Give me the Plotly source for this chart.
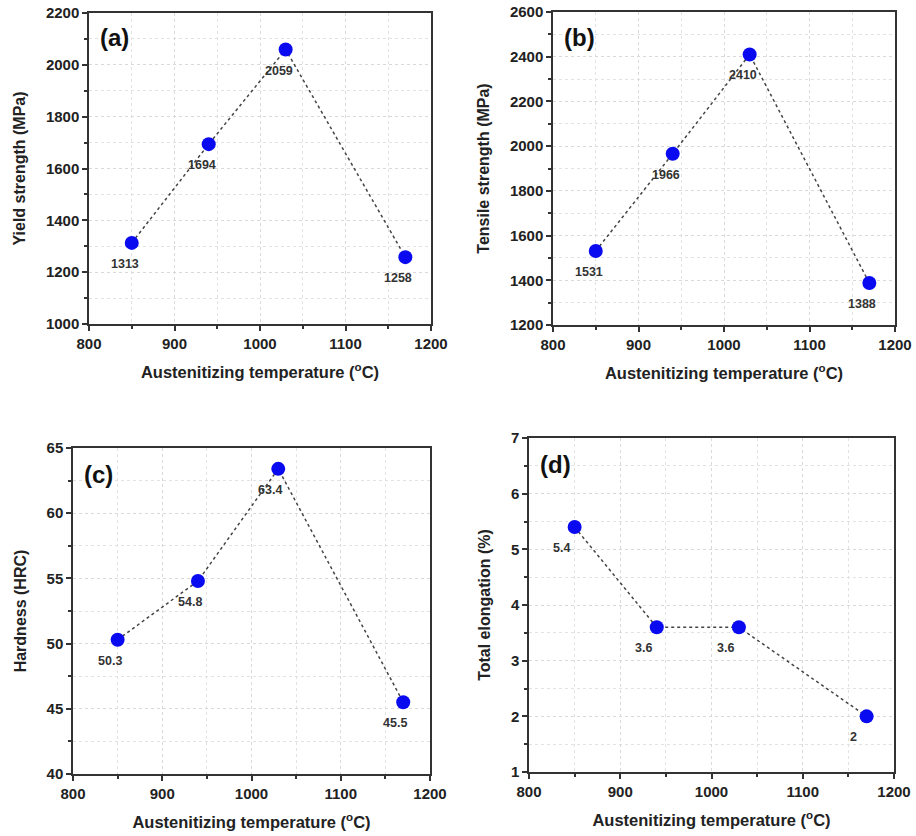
import plotly.graph_objects as go

temps = [850, 940, 1030, 1170]
yield_strength = [1313, 1694, 2059, 1258]
tensile_strength = [1531, 1966, 2410, 1388]
hardness = [50.3, 54.8, 63.4, 45.5]
elongation = [5.4, 3.6, 3.6, 2]

yield_labels = ["1313", "1694", "2059", "1258"]
tensile_labels = ["1531", "1966", "2410", "1388"]
hardness_labels = ["50.3", "54.8", "63.4", "45.5"]
elong_labels = ["5.4", "3.6", "3.6", "2"]

# body margin is removed in the page, so the figure fills the 916x836 window
OFF, W, H = 0, 916, 836


def xd(a, b):
    return [(a - OFF) / W, (b - OFF) / W]


def yd(top, bottom):
    return [1 - (bottom - OFF) / H, 1 - (top - OFF) / H]


panels = [
    dict(name="(a)", y=yield_strength, lab=yield_labels, title="Yield strength (MPa)",
         yr=[1000, 2200], dy=200, xd=xd(89, 431), yd=yd(13, 324), xs=-7),
    dict(name="(b)", y=tensile_strength, lab=tensile_labels, title="Tensile strength (MPa)",
         yr=[1200, 2600], dy=200, xd=xd(553, 895), yd=yd(12, 325), xs=-7),
    dict(name="(c)", y=hardness, lab=hardness_labels, title="Hardness (HRC)",
         yr=[40, 65], dy=5, xd=xd(73, 430), yd=yd(448, 774), xs=-8),
    dict(name="(d)", y=elongation, lab=elong_labels, title="Total elongation (%)",
         yr=[1, 7], dy=1, xd=xd(529, 894), yd=yd(438, 772), xs=-13),
]

FONT = "Liberation Sans"
fig = go.Figure()
annotations = []
for i, p in enumerate(panels, start=1):
    sfx = "" if i == 1 else str(i)
    fig.add_trace(go.Scatter(
        x=temps, y=p["y"], mode="lines+markers",
        xaxis="x" + sfx, yaxis="y" + sfx,
        line=dict(color="#444444", width=1.5, dash="dot"),
        marker=dict(color="#0a0af0", size=14, line=dict(width=0)),
        showlegend=False, hoverinfo="skip",
    ))
    for xv, yv, t in zip(temps, p["y"], p["lab"]):
        annotations.append(dict(
            x=xv, y=yv, xref="x" + sfx, yref="y" + sfx, text=t,
            showarrow=False, xshift=p["xs"], yshift=-21,
            font=dict(family=FONT, size=12.5, color="#333333", weight="bold"),
        ))
    annotations.append(dict(
        x=0.025, y=0.92, xref=("x" + sfx + " domain"), yref=("y" + sfx + " domain"),
        text=p["name"], showarrow=False, xanchor="left", yanchor="middle",
        font=dict(family=FONT, size=24, color="#111111", weight="bold"),
    ))
    common = dict(
        showline=True, linecolor="#333333", linewidth=1.5, mirror=True,
        ticks="outside", ticklen=5, tickwidth=1.5, tickcolor="#333333",
        showgrid=True, gridcolor="#d9d9d9", griddash="dot", gridwidth=1,
        zeroline=False, automargin=False, ticklabeloverflow="allow",
        tickfont=dict(family=FONT, size=15, color="#222222", weight="bold"),
    )
    fig.update_layout(**{
        "xaxis" + sfx: dict(
            common, domain=p["xd"], range=[800, 1200], dtick=100, tick0=800,
            anchor="y" + sfx,
            minor=dict(dtick=50, ticks="outside", ticklen=3, tickcolor="#333333",
                       showgrid=True, gridcolor="#e2e2e2", griddash="dot"),
            title=dict(text="Austenitizing temperature (<sup>o</sup>C)",
                       font=dict(family=FONT, size=16.5, color="#222222", weight="bold"),
                       standoff=16),
        ),
        "yaxis" + sfx: dict(
            common, domain=p["yd"], range=p["yr"], dtick=p["dy"], tick0=p["yr"][0],
            anchor="x" + sfx,
            minor=dict(dtick=p["dy"] / 2, ticks="outside", ticklen=3, tickcolor="#333333",
                       showgrid=True, gridcolor="#e2e2e2", griddash="dot"),
            title=dict(text=p["title"],
                       font=dict(family=FONT, size=16, color="#222222", weight="bold"),
                       standoff=16),
        ),
    })

fig.update_layout(
    width=W, height=H, margin=dict(l=0, r=0, t=0, b=0, autoexpand=False),
    paper_bgcolor="white", plot_bgcolor="white",
    annotations=annotations,
)
fig.write_html(
    "out.html",
    config={"displayModeBar": False},
    post_script="document.body.style.margin='0px';document.body.style.overflow='hidden';",
)
